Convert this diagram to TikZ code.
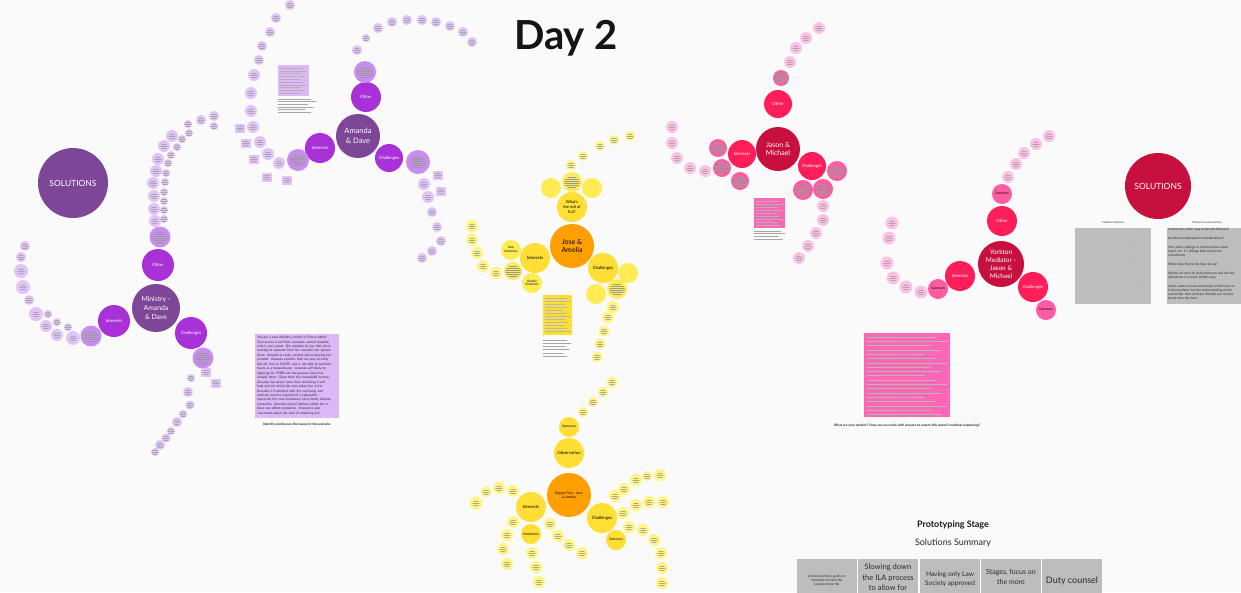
\documentclass[tikz,border=0pt]{standalone}
\usepackage{fontspec}
\setmainfont{Lato}
\usepackage{tikz}
\usetikzlibrary{positioning}
\usepackage{xcolor}
\definecolor{bgpaper}{HTML}{FAFAFA}
\definecolor{plumdark}{HTML}{7D4696}
\definecolor{plumbright}{HTML}{A832D7}
\definecolor{plummid}{HTML}{C98CF0}
\definecolor{plumlight}{HTML}{E2C2FA}
\definecolor{plumbox}{HTML}{DDB8F8}
\definecolor{ambercore}{HTML}{FFA000}
\definecolor{sunmain}{HTML}{FFDF35}
\definecolor{sunmid}{HTML}{FFEC55}
\definecolor{sunlight}{HTML}{FFF57F}
\definecolor{crimsoncore}{HTML}{C8103F}
\definecolor{rosebright}{HTML}{FF1E5A}
\definecolor{rosemid}{HTML}{FF5CA3}
\definecolor{roselight}{HTML}{FFC0E6}
\definecolor{rosebox}{HTML}{FF66B5}
\definecolor{slatebox}{HTML}{BDBDBD}
\definecolor{inkdark}{HTML}{2B2B2B}
\newcommand{\fsz}[2]{\fontsize{#1}{#2}\selectfont}
% block of grey strokes standing for unreadable small print
\newcommand{\scribblock}[6]{%
  \foreach \k in {1,...,#4}{%
    \pgfmathsetmacro{\len}{#3*(0.72+0.28*mod(\k*7,5)/4)}
    \draw[#6,line width=0.5pt] (#1,{#2+(\k-1)*#5}) -- ++(\len,0);}}

\begin{document}
\begin{tikzpicture}[x=1pt,y=-1pt,line cap=round,font=\fsz{4.3}{5},
  bub/.style={circle,inner sep=0pt,align=center,minimum size=#1},
  hub/.style={bub=#1,text=white},
  scrib/.style={path picture={
    \foreach \dy/\hw in {-1.8/2.4,0/3.4,1.8/2.4}
      \draw[black!35,line width=0.25pt]
        ([shift={(-\hw pt,\dy pt)}]path picture bounding box.center) --
        ([shift={(\hw pt,\dy pt)}]path picture bounding box.center);}},
  scribwide/.style={path picture={
    \foreach \dy/\hw in {-5/4,-3/6.5,-1/7.5,1/7.5,3/6.5,5/4}
      \draw[black!40,line width=0.3pt]
        ([shift={(-\hw pt,\dy pt)}]path picture bounding box.center) --
        ([shift={(\hw pt,\dy pt)}]path picture bounding box.center);}},
  tag/.style={fill=plumlight,inner sep=0pt,minimum width=10pt,minimum height=9pt,scrib}]
\useasboundingbox (0,0) rectangle (1241,592);
\begin{scope}
\clip (0,0) rectangle (1241,592);
\fill[bgpaper] (0,0) rectangle (1241,592);

\node[font=\fsz{40}{44}\bfseries,text=black!92] (title) at (566,38) {Day 2};

% ---- Ministry - Amanda & Dave
\node[hub=70pt,fill=plumdark,font=\fsz{8.5}{10}] (solL) at (73,183) {SOLUTIONS};
\node[hub=48pt,fill=plumdark,font=\fsz{6.8}{8.6}] (ministry) at (156,308) {Ministry -\\Amanda\\\& Dave};
\node[hub=32pt,fill=plumbright] (minOther) at (158,265) {Other};
\node[hub=32pt,fill=plumbright] (minInt) at (114,321) {Interests};
\node[hub=32pt,fill=plumbright] (minChal) at (191,333) {Challenges};
\node[bub=21pt,fill=plummid,scribwide] (minOtherT) at (160,237) {};
\node[bub=21pt,fill=plummid,scribwide] (minIntT) at (91,336) {};
\node[bub=21pt,fill=plummid,scribwide] (minChalT) at (203,358) {};
\foreach \px/\py/\d [count=\i] in {155/221/12,154/209/12,154/196/12,153/183/12,156/171/12,
    158/159/12,164/146/12,172/136/12,164/219/8,164/210/8,164/201/8,164/192/8,165/182/8,
    166/173/8,168/163/8,171/155/8,177/147/8,182/139/8,189/133/8,188/124/8,201/120/10,
    214/116/10,214/126/8,
    73/338/14,68/327/8,57/335/12,57/322/8,46/326/12,48/314/8,36/314/14,29/300/10,
    23/287/14,21/271/14,21/257/10,25/246/10,
    191/378/8,188/392/10,190/405/9,183/414/8,177/422/10,171/431/8,166/438/9,160/445/10,155/452/8}
  \node[bub=\d pt,fill=plumlight,scrib] (mn\i) at (\px,\py) {};
\node[tag] (mnTagA) at (206,372) {};
\node[tag] (mnTagB) at (216,383) {};
\node[fill=plumbox,inner sep=0pt,minimum width=84pt,minimum height=84pt,anchor=north west] (minBox) at (255,334) {};
\node[anchor=north west,text width=80pt,font=\fsz{3.3}{4.45},text=inkdark,inner sep=0pt] (minText) at (257,336)
  {You are a new Ministry worker in Prince Albert.\\ You receive a call from someone named Amanda\\
   who is very upset. She explains to you that she is\\ seeking to separate from her common-law spouse\\
   Dave. Amanda is really worried about keeping her\\ pension. Amanda explains that she was recently\\
   laid off, due to COVID, and is not able to maintain\\ hours as a housecleaner. Amanda will likely be\\
   applying for CERB and she guesses Dave has\\ already done. Given their low household income,\\
   Amanda has spent some time reviewing a self-\\ help tool kit which has only taken her so far.\\
   Amanda is frustrated with the confusing and\\ intricate process required of a separation -\\
   especially the new mandatory early family dispute\\ resolution. Amanda doesn't believe either her or\\
   Dave can afford mediation. Amanda is also\\ concerned about the cost of obtaining ILA.};
\node[font=\fsz{3.3}{4}\bfseries,text=inkdark] (minAsk) at (297,425) {Identify and discuss the issues in this scenario.};

% ---- Amanda & Dave
\node[hub=44pt,fill=plumdark,font=\fsz{7.5}{9.5}] (amanda) at (358,136) {Amanda\\\& Dave};
\node[hub=30pt,fill=plumbright] (amOther) at (366,97) {Other};
\node[hub=30pt,fill=plumbright] (amInt) at (320,148) {Interests};
\node[hub=28pt,fill=plumbright] (amChal) at (389,158) {Challenges};
\node[bub=22pt,fill=plummid,scribwide] (amOtherT) at (365,72) {};
\node[bub=24pt,fill=plummid,scribwide] (amChalT) at (418,162) {};
\node[bub=22pt,fill=plummid,scribwide] (amIntT) at (298,160) {};
\foreach \px/\py/\d [count=\i] in {254/75/12,251/93/12,251/111/12,253/127/12,260/142/12,
    268/154/12,279/163/12,424/184/12,428/197/12,432/212/10,437/227/10,441/241/10,432/251/10,
    422/258/10,259/60/10,262/46/10,270/32/10,276/18/10,290/5/10,357/50/10,366/38/8,378/28/10,
    392/22/10,407/20/10,422/20/10,436/22/10,450/26/10,463/32/10,472/42/10}
  \node[bub=\d pt,fill=plumlight,scrib] (ad\i) at (\px,\py) {};
\foreach \px/\py [count=\i] in {240/128,246/143,254/159,267/177,287/180,438/175,441/191}
  \node[tag] (adTag\i) at (\px,\py) {};
\node[fill=plumbox,inner sep=0pt,minimum width=31pt,minimum height=31pt,anchor=north west] (amBox) at (278,65) {};
\scribblock{280}{68}{27}{10}{2.8}{black!30}
\scribblock{278}{99}{38}{6}{2.6}{black!35}

% ---- Jose & Amelia
\node[bub=44pt,fill=ambercore,font=\fsz{7}{8.8}] (jose) at (572,246) {Jose \&\\Amelia};
\node[bub=30pt,fill=sunmain,font=\fsz{4}{4.8}] (joseEvil) at (572,207) {What's\\the evil of\\ILA?};
\node[bub=30pt,fill=sunmain] (joseInt) at (535,258) {Interests};
\node[bub=30pt,fill=sunmain] (joseChal) at (603,268) {Challenges};
\node[bub=20pt,fill=sunmid,scribwide] (joseTopT) at (572,182) {};
\node[bub=20pt,fill=sunmid] (joseTopL) at (551,188) {};
\node[bub=20pt,fill=sunmid] (joseTopR) at (592,188) {};
\node[bub=20pt,fill=sunmid] (joseChalA) at (628,273) {};
\node[bub=20pt,fill=sunmid] (joseChalB) at (596,294) {};
\node[bub=20pt,fill=sunmid,scribwide] (joseChalT) at (617,289) {};
\node[bub=20pt,fill=sunmid,font=\fsz{3.2}{3.8}] (joseSum) at (511,250) {Jose\\Summary};
\node[bub=18pt,fill=sunmid,scribwide] (joseIntT) at (513,271) {};
\node[bub=20pt,fill=sunmid,font=\fsz{3.2}{3.8}] (ameliaSum) at (532,283) {Amelia\\Summary};
\foreach \px/\py/\d [count=\i] in {472/226/12,472/240/12,477/253/12,483/266/12,496/273/12,
    613/307/12,608/317/12,604/331/11,600/344/11,597/357/11,612/382/11,571/165/10,583/156/10,
    600/146/10,614/140/10,630/136/10}
  \node[bub=\d pt,fill=sunlight,scrib] (ja\i) at (\px,\py) {};
\node[fill=sunmain,inner sep=0pt,minimum width=29pt,minimum height=40pt,anchor=north west] (joseBox) at (543,295) {};
\scribblock{545}{298}{25}{12}{3}{black!28}
\scribblock{543}{340}{28}{6}{3.2}{black!35}

% ---- Regina Firm - Jose & Amelia
\node[bub=44pt,fill=ambercore,font=\fsz{3.4}{4.2}] (regina) at (569,495) {Regina Firm - Jose\\\& Amelia};
\node[bub=30pt,fill=sunmain] (regObs) at (569,453) {Observation};
\node[bub=20pt,fill=sunmain,font=\fsz{3.4}{4}] (regObsSum) at (569,427) {Summary};
\node[bub=30pt,fill=sunmain] (regInt) at (531,507) {Interests};
\node[bub=30pt,fill=sunmain] (regChal) at (602,518) {Challenges};
\node[bub=20pt,fill=sunmain,font=\fsz{3.4}{4}] (regMed) at (531,534) {Mediators};
\node[bub=20pt,fill=sunmain,font=\fsz{3.4}{4}] (regChalSum) at (616,540) {Summary};
\foreach \px/\py/\d [count=\i] in {476/503/13,486/492/11,499/488/12,513/491/12,513/522/12,
    507/535/12,503/549/12,507/564/12,532/553/12,536/567/12,539/582/12,550/524/12,558/536/12,
    569/545/12,582/553/12,615/496/12,624/489/12,636/480/12,647/476/10,660/475/12,623/513/12,
    636/505/12,649/502/12,663/502/12,629/527/12,643/530/12,654/540/12,661/553/12,662/568/12,
    662/583/12,583/412/10,593/402/10,603/392/10}
  \node[bub=\d pt,fill=sunlight,scrib] (rg\i) at (\px,\py) {};

% ---- Jason & Michael
\node[hub=44pt,fill=crimsoncore,font=\fsz{7}{8.8}] (jason) at (778,149) {Jason \&\\Michael};
\node[hub=28pt,fill=rosebright] (jmOther) at (778,104) {Other};
\node[hub=28pt,fill=rosebright] (jmInt) at (742,154) {Interests};
\node[hub=28pt,fill=rosebright] (jmChal) at (812,166) {Challenges};
\foreach \px/\py/\d [count=\i] in {718/148/18,722/168/18,740/181/18,837/171/20,803/190/20,
    823/189/20,781/78/16}
  \node[bub=\d pt,fill=rosemid,scribwide] (jmT\i) at (\px,\py) {};
\foreach \px/\py [count=\i] in {672/127,672/143,677/158,690/168,705/171,823/206,823/220,
    816/233,808/246,799/258,790/62,796/48,806/38,819/28}
  \node[bub=12pt,fill=roselight,scrib] (jm\i) at (\px,\py) {};
\node[fill=rosebox,inner sep=0pt,minimum width=31pt,minimum height=30pt,anchor=north west] (jmBox) at (754,198) {};
\scribblock{756}{201}{27}{9}{3}{black!30}
\scribblock{754}{231}{31}{4}{2.6}{black!35}

% ---- Yorkton Mediator - Jason & Michael
\node[hub=46pt,fill=crimsoncore,font=\fsz{6.5}{8.2}] (yorkton) at (1001,264) {Yorkton\\Mediator -\\Jason \&\\Michael};
\node[hub=30pt,fill=rosebright] (ykOther) at (1002,221) {Other};
\node[bub=20pt,fill=rosemid,font=\fsz{3.4}{4}] (ykOtherSum) at (1002,194) {Summary};
\node[hub=30pt,fill=rosebright] (ykInt) at (960,276) {Interests};
\node[hub=30pt,fill=rosebright] (ykChal) at (1033,287) {Challenges};
\node[bub=20pt,fill=rosemid,font=\fsz{3.4}{4}] (ykIntSum) at (938,289) {Summary};
\node[bub=20pt,fill=rosemid,font=\fsz{3.4}{4}] (ykChalSum) at (1046,310) {Summary};
\foreach \px/\py/\d [count=\i] in {1008/177/12,1016/164/12,1024/153/12,1036/144/12,1049/136/12,
    921/292/13,906/287/13,893/278/13,887/263/13,889/238/13,892/223/13}
  \node[bub=\d pt,fill=roselight,scrib] (yk\i) at (\px,\py) {};
\node[fill=rosebox,inner sep=0pt,minimum width=86pt,minimum height=84pt,anchor=north west] (ykBox) at (864,333) {};
\scribblock{867}{337}{80}{19}{4.3}{black!28}
\node[font=\fsz{3.3}{4}\bfseries,text=inkdark] (ykAsk) at (907,426)
  {What are your options? How can you work with lawyers to ensure this doesn't continue happening?};

% ---- Solutions (right)
\node[hub=66pt,fill=crimsoncore,font=\fsz{8.5}{10}] (solR) at (1158,186) {SOLUTIONS};
\node[fill=slatebox,inner sep=0pt,minimum width=76pt,minimum height=76pt,anchor=north west] (medSol) at (1075,228) {};
\node[font=\fsz{2.6}{3},text=inkdark,above=0.5pt of medSol] (medSolCap) {Mediator Solutions};
\scribblock{1077}{231}{68}{24}{3.1}{black!25}
\node[fill=slatebox,inner sep=0pt,minimum width=80pt,minimum height=76pt,anchor=north west] (jmSol) at (1167,228) {};
\node[font=\fsz{2.6}{3},text=inkdark,anchor=south] (jmSolCap) at (1207,227.5) {Michael \& Jason Solutions};
\node[anchor=north west,align=left,inner sep=0pt,font=\fsz{3.3}{4.2},text=inkdark] (jmSolText) at (1168,228)
  {Is there any other way to benefit Michael?\\[4.6pt]
   Are there employment considerations?\\[4.6pt]
   How many siblings or children does Jason\\ have? (ex: 17 siblings that need to be\\ considered).\\[4.6pt]
   What does the family have to say?\\[4.6pt]
   Maybe we need to pool resources and see the\\ allocations in a more holistic way\\[4.6pt]
   Jason wants to have ownership of the land, so\\ If the mediator has the understanding of the\\
   ownership, then perhaps Michael can receive\\ funds from the farm.};

% ---- Prototyping stage
\node[font=\fsz{9}{11}\bfseries,text=black!90] (protoHead) at (953,525) {Prototyping Stage};
\node[font=\fsz{9}{11},text=black!85,below=3pt of protoHead] (protoSub) {Solutions Summary};
\foreach \bx in {797,858,920,981,1042}
  \fill[slatebox] (\bx,559) rectangle ++(60,40);
\node[anchor=north,align=center,inner sep=0pt,font=\fsz{3.4}{4.1},text=inkdark] (protoA) at (827,575)
  {A best practices guide, or\\ template to have the\\ lawyers have the};
\node[anchor=north,align=center,inner sep=0pt,font=\fsz{7.6}{10.4},text=inkdark] (protoB) at (888,564)
  {Slowing down\\ the ILA process\\ to allow for};
\node[anchor=north,align=center,inner sep=0pt,font=\fsz{6.6}{9},text=inkdark] (protoC) at (950,571)
  {Having only Law\\ Society approved};
\node[anchor=north,align=center,inner sep=0pt,font=\fsz{7}{10},text=inkdark] (protoD) at (1011,569)
  {Stages, focus on\\ the more};
\node[anchor=north,align=center,inner sep=0pt,font=\fsz{9}{11},text=inkdark] (protoE) at (1072,577)
  {Duty counsel};
\end{scope}
\end{tikzpicture}
\end{document}
